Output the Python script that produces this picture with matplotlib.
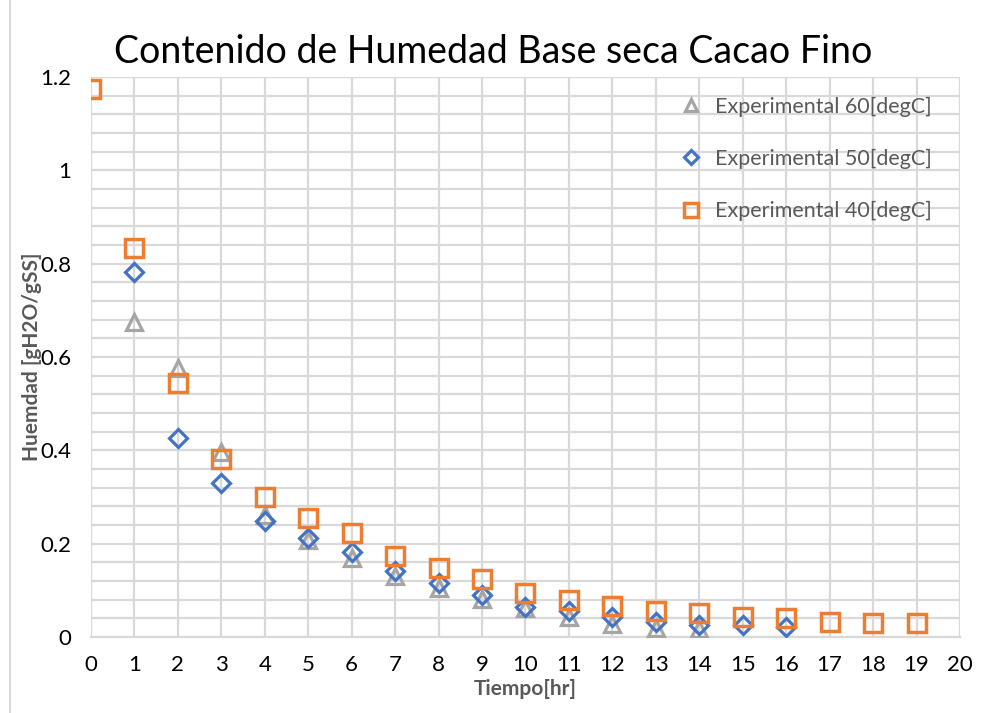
import matplotlib
matplotlib.use("Agg")
import matplotlib.pyplot as plt
import numpy as np
from matplotlib.lines import Line2D

# Tiempo [hr]
t_60 = [1, 2, 3, 4, 5, 6, 7, 8, 9, 10, 11, 12, 13, 14]
t_50 = [1, 2, 3, 4, 5, 6, 7, 8, 9, 10, 11, 12, 13, 14, 15, 16]
t_40 = [0, 1, 2, 3, 4, 5, 6, 7, 8, 9, 10, 11, 12, 13, 14, 15, 16, 17, 18, 19]

# Humedad [gH2O/gSS]
h_60 = [0.675, 0.576, 0.396, 0.262, 0.208, 0.170, 0.131, 0.105, 0.082, 0.062,
        0.043, 0.027, 0.020, 0.018]
h_50 = [0.782, 0.427, 0.330, 0.249, 0.212, 0.182, 0.142, 0.116, 0.090, 0.064,
        0.055, 0.043, 0.033, 0.026, 0.026, 0.021]
h_40 = [1.174, 0.833, 0.544, 0.381, 0.300, 0.255, 0.223, 0.174, 0.148, 0.124,
        0.094, 0.079, 0.067, 0.056, 0.051, 0.043, 0.040, 0.033, 0.030, 0.030]

labels = ["Experimental 60[degC]", "Experimental 50[degC]", "Experimental 40[degC]"]

plt.rcParams["font.family"] = ["Lato", "DejaVu Sans"]

fig = plt.figure(figsize=(9.87, 7.13), dpi=100)
ax = fig.add_axes([0.0922, 0.1066, 0.8804, 0.7854])

grid_c = "#D9D9D9"
ax.plot(t_60, h_60, ls="none", marker="^", ms=11, mfc="none", mec="#A5A5A5", mew=2.3,
        label=labels[0], zorder=3)
ax.plot(t_50, h_50, ls="none", marker="D", ms=9, mfc="none", mec="#4472C4", mew=2.3,
        label=labels[1], zorder=4)
ax.plot(t_40, h_40, ls="none", marker="s", ms=13, mfc="none", mec="#ED7D31", mew=2.5,
        label=labels[2], zorder=5)

ax.set_xlim(0, 20)
ax.set_ylim(0, 1.2)
ax.set_xticks(np.arange(0, 21, 1))
ax.set_yticks([0, 0.2, 0.4, 0.6, 0.8, 1.0, 1.2])
ax.set_yticklabels(["0", "0.2", "0.4", "0.6", "0.8", "1", "1.2"])
ax.set_yticks(np.arange(0, 1.2001, 0.04), minor=True)
ax.grid(True, which="major", color=grid_c, lw=1.6)
ax.grid(True, which="minor", axis="y", color=grid_c, lw=1.6)
ax.set_axisbelow(True)
for s in ["top", "right", "left"]:
    ax.spines[s].set_visible(False)
ax.spines["bottom"].set_color(grid_c)
ax.spines["bottom"].set_linewidth(1.6)
ax.tick_params(which="both", length=0, labelsize=16, pad=13)
ax.tick_params(axis="y", pad=14)

ax.set_xlabel("Tiempo[hr]", fontsize=15, fontweight="bold", color="#595959", labelpad=3)
ax.set_ylabel("Huemdad [gH2O/gSS]", fontsize=15, fontweight="bold", color="#595959")
ax.yaxis.set_label_coords(-0.056, 0.5)
fig.suptitle("Contenido de Humedad Base seca Cacao Fino", fontsize=27, y=0.952)

ax.legend(loc="upper right", bbox_to_anchor=(0.99, 1.0), frameon=False, fontsize=15.5,
          labelspacing=1.5, handletextpad=0.1, labelcolor="#595959", markerscale=0.8)

fig.add_artist(Line2D([10 / 987, 10 / 987], [0, 1], color="#D9D9D9", lw=1.5))

fig.savefig("out.png", dpi=100)
